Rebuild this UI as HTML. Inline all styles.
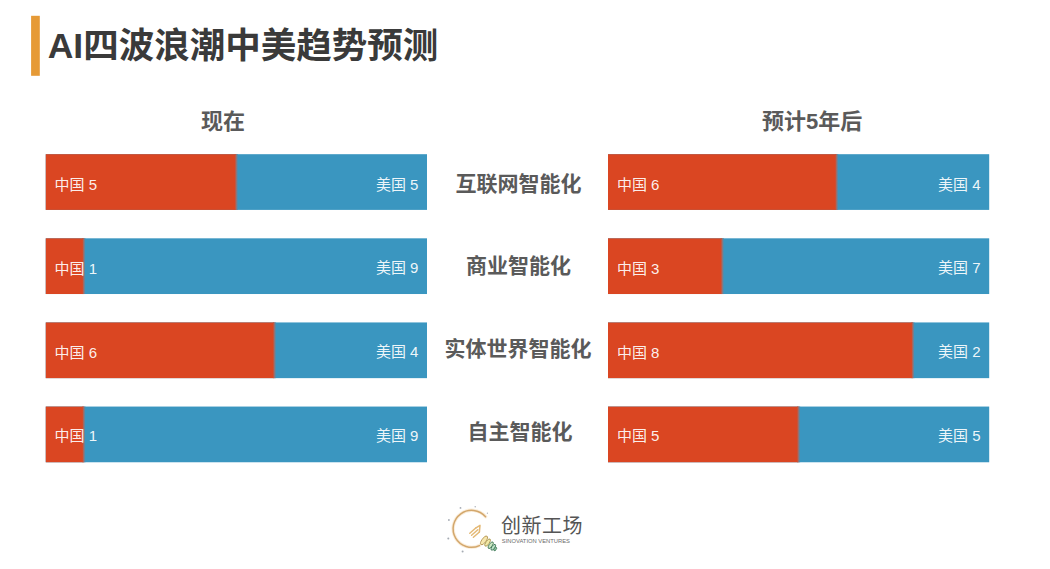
<!DOCTYPE html>
<html lang="zh-CN">
<head>
<meta charset="utf-8">
<title>AI四波浪潮中美趋势预测</title>
<style>
html,body{margin:0;padding:0;background:#fff;}
body{width:1050px;height:569px;position:relative;overflow:hidden;font-family:"Liberation Sans","Noto Sans CJK SC",sans-serif;}
#art{position:absolute;left:0;top:0;width:1050px;height:569px;display:block;}
.t{position:absolute;margin:0;white-space:nowrap;color:#5a5a5a;line-height:1;overflow:visible;font-weight:400;font-family:"Liberation Sans","Noto Sans CJK SC",sans-serif;}
.b{font-weight:700;}
.w{color:rgba(255,255,255,0.93);}
</style>
</head>
<body>
<svg id="art" width="1050" height="569" viewBox="0 0 1050 569">
<defs><linearGradient id="rb" x1="0" y1="0" x2="1" y2="0"><stop offset="0" stop-color="#da4622"/><stop offset="0.5" stop-color="#8f7478"/><stop offset="1" stop-color="#3a96c0"/></linearGradient></defs>
<rect width="1050" height="569" fill="#fff"/>
<rect x="31.1" y="15.8" width="8.7" height="60" fill="#e69a36"/>
<rect x="45.75" y="154.20" width="381.25" height="55.70" fill="#3a96c0"/>
<rect x="45.75" y="154.20" width="190.62" height="55.70" fill="#da4622"/>
<rect x="234.78" y="154.20" width="3.20" height="55.70" fill="url(#rb)"/>
<rect x="608.00" y="154.20" width="381.20" height="55.70" fill="#3a96c0"/>
<rect x="608.00" y="154.20" width="228.72" height="55.70" fill="#da4622"/>
<rect x="835.12" y="154.20" width="3.20" height="55.70" fill="url(#rb)"/>
<rect x="45.75" y="238.32" width="381.25" height="55.70" fill="#3a96c0"/>
<rect x="45.75" y="238.32" width="38.12" height="55.70" fill="#da4622"/>
<rect x="82.28" y="238.32" width="3.20" height="55.70" fill="url(#rb)"/>
<rect x="608.00" y="238.32" width="381.20" height="55.70" fill="#3a96c0"/>
<rect x="608.00" y="238.32" width="114.36" height="55.70" fill="#da4622"/>
<rect x="720.76" y="238.32" width="3.20" height="55.70" fill="url(#rb)"/>
<rect x="45.75" y="322.44" width="381.25" height="55.70" fill="#3a96c0"/>
<rect x="45.75" y="322.44" width="228.75" height="55.70" fill="#da4622"/>
<rect x="272.90" y="322.44" width="3.20" height="55.70" fill="url(#rb)"/>
<rect x="608.00" y="322.44" width="381.20" height="55.70" fill="#3a96c0"/>
<rect x="608.00" y="322.44" width="304.96" height="55.70" fill="#da4622"/>
<rect x="911.36" y="322.44" width="3.20" height="55.70" fill="url(#rb)"/>
<rect x="45.75" y="406.56" width="381.25" height="55.70" fill="#3a96c0"/>
<rect x="45.75" y="406.56" width="38.12" height="55.70" fill="#da4622"/>
<rect x="82.28" y="406.56" width="3.20" height="55.70" fill="url(#rb)"/>
<rect x="608.00" y="406.56" width="381.20" height="55.70" fill="#3a96c0"/>
<rect x="608.00" y="406.56" width="190.60" height="55.70" fill="#da4622"/>
<rect x="797.00" y="406.56" width="3.20" height="55.70" fill="url(#rb)"/>
<g id="logo">
<path d="M485.56 516.66A18.5 18.5 0 1 0 479.42 545.57" fill="none" stroke="#f3d3a3" stroke-opacity="0.4" stroke-width="3.4" stroke-linecap="round"/>
<path d="M485.56 516.66A18.5 18.5 0 1 0 479.42 545.57" fill="none" stroke="#d3a76c" stroke-width="1.5" stroke-linecap="round"/>
<g fill="#8f96a0" fill-opacity="0.8"><circle cx="460.5" cy="507.9" r="0.9"/><circle cx="475.2" cy="506.8" r="0.7"/><circle cx="448.9" cy="520" r="0.9"/><circle cx="448.3" cy="538.6" r="1"/><circle cx="462.6" cy="551.6" r="1"/><circle cx="487.4" cy="513.2" r="0.6"/></g>
<g fill="none" stroke="#e4b976" stroke-width="1.5" stroke-linecap="round" stroke-linejoin="round"><path d="M469.8 533.2L476 527.8"/><path d="M471.6 535.2L477.8 529.8"/><path d="M473.4 537.2L479.4 532"/><path d="M476 527.8L480 525.4L479.4 532"/></g>
<ellipse cx="484" cy="540.4" rx="5.2" ry="2.1" transform="rotate(-55 484 540.4)" fill="#f6e7ad" stroke="#b99a5c" stroke-width="0.9"/>
<ellipse cx="487.6" cy="542.6" rx="4.3" ry="1.7" transform="rotate(-55 487.6 542.6)" fill="#f2e9a6" stroke="#ab9b58" stroke-width="0.9"/>
<ellipse cx="490.7" cy="545.2" rx="3.9" ry="1.6" transform="rotate(-55 490.7 545.2)" fill="#cde8c2" stroke="#4d7f5e" stroke-width="0.9"/>
<ellipse cx="493.3" cy="547.3" rx="3.4" ry="1.5" transform="rotate(-55 493.3 547.3)" fill="#bfe4c8" stroke="#42795b" stroke-width="0.9"/>
<ellipse cx="495.2" cy="549" rx="2" ry="1.1" transform="rotate(-55 495.2 549)" fill="#8fc7a0" stroke="#42795b" stroke-width="0.8"/>
</g>
</svg>
<div class="t b" style="left:47.7px;top:28.7px;font-size:35.5px;width:391px;color:#3a3a3a;">AI四波浪潮中美趋势预测</div>
<div class="t b" style="left:201.0px;top:110.6px;font-size:22px;width:44px;">现在</div>
<div class="t b" style="left:762.1px;top:110.6px;font-size:22px;width:99px;">预计5年后</div>
<div class="t w" style="left:54.6px;top:177.1px;font-size:15px;width:44px;">中国 5</div>
<div class="t w" style="left:375.9px;top:176.6px;font-size:15px;width:44px;">美国 5</div>
<div class="t w" style="left:616.9px;top:177.1px;font-size:15px;width:44px;">中国 6</div>
<div class="t w" style="left:938.1px;top:176.6px;font-size:15px;width:44px;">美国 4</div>
<div class="t w" style="left:54.6px;top:260.8px;font-size:15px;width:44px;">中国 1</div>
<div class="t w" style="left:375.9px;top:260.3px;font-size:15px;width:44px;">美国 9</div>
<div class="t w" style="left:616.9px;top:260.8px;font-size:15px;width:44px;">中国 3</div>
<div class="t w" style="left:938.1px;top:260.3px;font-size:15px;width:44px;">美国 7</div>
<div class="t w" style="left:54.6px;top:344.5px;font-size:15px;width:44px;">中国 6</div>
<div class="t w" style="left:375.9px;top:344.0px;font-size:15px;width:44px;">美国 4</div>
<div class="t w" style="left:616.9px;top:344.5px;font-size:15px;width:44px;">中国 8</div>
<div class="t w" style="left:938.1px;top:344.0px;font-size:15px;width:44px;">美国 2</div>
<div class="t w" style="left:54.6px;top:428.2px;font-size:15px;width:44px;">中国 1</div>
<div class="t w" style="left:375.9px;top:427.7px;font-size:15px;width:44px;">美国 9</div>
<div class="t w" style="left:616.9px;top:428.2px;font-size:15px;width:44px;">中国 5</div>
<div class="t w" style="left:938.1px;top:427.7px;font-size:15px;width:44px;">美国 5</div>
<div class="t b" style="left:455.6px;top:173.0px;font-size:21px;width:125px;">互联网智能化</div>
<div class="t b" style="left:466.0px;top:255.1px;font-size:21px;width:103px;">商业智能化</div>
<div class="t b" style="left:444.6px;top:337.8px;font-size:21px;width:145px;">实体世界智能化</div>
<div class="t b" style="left:467.5px;top:420.9px;font-size:21px;width:101px;">自主智能化</div>
<div class="t" style="left:501.0px;top:515.6px;font-size:20px;width:80px;letter-spacing:0.5px;color:#555555;">创新工场</div>
<div class="t" style="left:501.8px;top:539.4px;font-size:5.8px;width:79px;color:#6c6c6c;">SINOVATION VENTURES</div>
</body>
</html>
